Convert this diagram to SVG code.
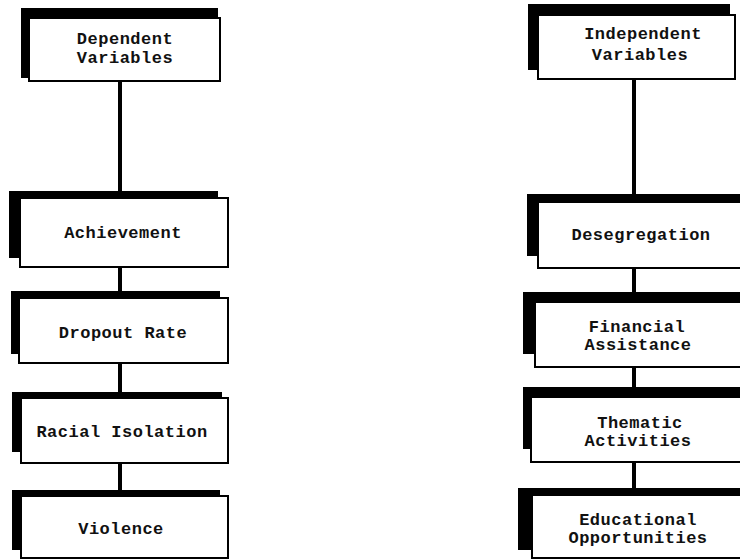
<svg xmlns="http://www.w3.org/2000/svg" width="740" height="560" viewBox="0 0 740 560">
<style>
.sh{fill:#000}
.bx{fill:#fff;stroke:#000;stroke-width:2}
.t{font-family:"Liberation Mono","Courier New",monospace;font-weight:bold;font-size:17px;letter-spacing:0.5px;fill:#111;text-anchor:middle}
.c{stroke:#000;stroke-width:4;fill:none}
</style>
<rect width="740" height="560" fill="#fff"/>
<g id="connectors">
<line class="c" x1="120" y1="80" x2="120" y2="198"/>
<line class="c" x1="120" y1="266" x2="120" y2="298"/>
<line class="c" x1="120" y1="362" x2="120" y2="398"/>
<line class="c" x1="120" y1="462" x2="120" y2="496"/>
<line class="c" x1="634" y1="78" x2="634" y2="202"/>
<line class="c" x1="634" y1="267" x2="634" y2="302"/>
<line class="c" x1="634" y1="366" x2="634" y2="397"/>
<line class="c" x1="634" y1="461" x2="634" y2="495"/>
</g>
<g id="dependent">
<rect class="sh" x="21" y="8" width="197" height="70"/>
<rect class="bx" x="29" y="18" width="191" height="63"/>
<text class="t" x="125" y="44">Dependent</text>
<text class="t" x="125" y="63">Variables</text>
</g>
<g id="achievement">
<rect class="sh" x="9" y="191" width="209" height="67"/>
<rect class="bx" x="20" y="198" width="208" height="69"/>
<text class="t" x="123" y="238">Achievement</text>
</g>
<g id="dropout">
<rect class="sh" x="11" y="291" width="209" height="63"/>
<rect class="bx" x="19" y="298" width="209" height="65"/>
<text class="t" x="123" y="338">Dropout Rate</text>
</g>
<g id="isolation">
<rect class="sh" x="12" y="392" width="210" height="60"/>
<rect class="bx" x="21" y="398" width="207" height="65"/>
<text class="t" x="122" y="437">Racial Isolation</text>
</g>
<g id="violence">
<rect class="sh" x="12" y="490" width="208" height="60"/>
<rect class="bx" x="21" y="496" width="207" height="62"/>
<text class="t" x="121" y="534">Violence</text>
</g>
<g id="independent">
<rect class="sh" x="528" y="4" width="202" height="66"/>
<rect class="bx" x="538" y="15" width="197" height="64"/>
<text class="t" x="643" y="39">Independent</text>
<text class="t" x="640" y="60">Variables</text>
</g>
<g id="desegregation">
<rect class="sh" x="527" y="194" width="220" height="62"/>
<rect class="bx" x="538" y="202" width="210" height="66"/>
<text class="t" x="641" y="240">Desegregation</text>
</g>
<g id="financial">
<rect class="sh" x="523" y="292" width="225" height="62"/>
<rect class="bx" x="535" y="302" width="213" height="65"/>
<text class="t" x="637" y="332">Financial</text>
<text class="t" x="638" y="350">Assistance</text>
</g>
<g id="thematic">
<rect class="sh" x="523" y="387" width="225" height="62"/>
<rect class="bx" x="531" y="397" width="217" height="65"/>
<text class="t" x="640" y="428">Thematic</text>
<text class="t" x="638" y="446">Activities</text>
</g>
<g id="educational">
<rect class="sh" x="518" y="488" width="230" height="62"/>
<rect class="bx" x="532" y="495" width="216" height="63"/>
<text class="t" x="638" y="525">Educational</text>
<text class="t" x="638" y="543">Opportunities</text>
</g>
</svg>
